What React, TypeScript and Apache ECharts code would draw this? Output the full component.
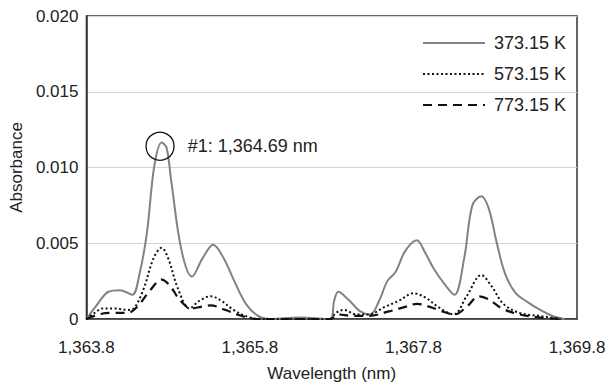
import React, { useEffect, useRef } from "react";
import * as echarts from "echarts";

// Wavelength (nm) and absorbance for each temperature
const wl373 = [1363.8, 1363.91, 1364.07, 1364.21, 1364.36, 1364.45, 1364.54, 1364.63, 1364.72, 1364.78, 1364.84, 1364.96, 1365.09, 1365.22, 1365.35, 1365.48, 1365.6, 1365.75, 1365.9, 1366.05, 1366.4, 1366.78, 1366.83, 1366.88, 1367.0, 1367.15, 1367.27, 1367.38, 1367.48, 1367.58, 1367.7, 1367.84, 1367.95, 1368.05, 1368.18, 1368.3, 1368.42, 1368.52, 1368.63, 1368.72, 1368.82, 1368.92, 1369.05, 1369.2, 1369.35, 1369.5, 1369.65];
const abs373 = [0, 0.0008, 0.0018, 0.0019, 0.0016, 0.003, 0.0057, 0.0101, 0.01165, 0.0113, 0.009, 0.0046, 0.0028, 0.004, 0.0049, 0.004, 0.0026, 0.001, 0.0002, 0, 0.0001, 0, 0.0012, 0.0018, 0.0013, 0.0005, 0.0003, 0.0012, 0.0025, 0.0031, 0.0045, 0.0052, 0.0043, 0.0033, 0.0023, 0.0016, 0.004, 0.0075, 0.0081, 0.0073, 0.005, 0.003, 0.0017, 0.0011, 0.0006, 0.0002, 0];

const wl573 = [1363.8, 1363.9, 1364.0, 1364.15, 1364.3, 1364.38, 1364.5, 1364.62, 1364.72, 1364.8, 1364.92, 1365.06, 1365.18, 1365.32, 1365.45, 1365.6, 1365.8, 1366.0, 1366.78, 1366.85, 1366.95, 1367.1, 1367.25, 1367.45, 1367.62, 1367.8, 1367.95, 1368.1, 1368.29, 1368.45, 1368.63, 1368.75, 1368.9, 1369.1, 1369.35, 1369.6];
const abs573 = [0, 0.0004, 0.0007, 0.0007, 0.0006, 0.0007, 0.002, 0.004, 0.0047, 0.004, 0.002, 0.0007, 0.0012, 0.0015, 0.0012, 0.0006, 0.0001, 0, 0, 0.0004, 0.0006, 0.0003, 0.0003, 0.0008, 0.0012, 0.0017, 0.0014, 0.0008, 0.0003, 0.0015, 0.0029, 0.0022, 0.001, 0.0004, 0.0002, 0];

const wl773 = [1363.8, 1363.95, 1364.1, 1364.3, 1364.42, 1364.58, 1364.72, 1364.82, 1364.95, 1365.08, 1365.2, 1365.32, 1365.5, 1365.7, 1365.9, 1366.78, 1366.88, 1367.05, 1367.25, 1367.5, 1367.7, 1367.84, 1368.0, 1368.15, 1368.3, 1368.45, 1368.6, 1368.72, 1368.88, 1369.1, 1369.35, 1369.6];
const abs773 = [0, 0.0003, 0.0004, 0.0004, 0.0008, 0.0019, 0.0026, 0.0022, 0.0012, 0.0007, 0.0008, 0.0009, 0.0006, 0.0002, 0, 0, 0.0003, 0.0002, 0.0002, 0.0005, 0.0008, 0.001, 0.0008, 0.0005, 0.0003, 0.0008, 0.0015, 0.0013, 0.0007, 0.0003, 0.0001, 0];

const seriesNames = ["373.15 K", "573.15 K", "773.15 K"];
const xStart = 1363.8;
const xEnd = 1369.8;
const xStep = 2;
const yTicks = [0, 0.005, 0.01, 0.015, 0.02];
const peakWl = 1364.7;
const peakAbs = 0.0114;
const peakLabel = "#1: 1,364.69 nm";

const FONT = "Liberation Sans";

const fmtX = (v: number) =>
  (v + xStart).toLocaleString("en-US", { minimumFractionDigits: 1, maximumFractionDigits: 1 });

const pairs = (wl: number[], ab: number[]) => wl.map((w, i) => [w - xStart, ab[i]]);

export default function App() {
  const ref = useRef<HTMLDivElement>(null);
  useEffect(() => {
    document.body.style.margin = "0";
    const chart = echarts.init(ref.current!, null, { renderer: "svg" });
    chart.setOption({
      animation: false,
      backgroundColor: "#fff",
      grid: {
        left: 81,
        top: 16,
        right: 38,
        bottom: 66,
        show: true,
        borderColor: "#333",
        borderWidth: 1.5,
        backgroundColor: "transparent",
      },
      legend: {
        orient: "vertical",
        left: 417,
        top: 29,
        itemWidth: 62,
        itemHeight: 14,
        itemGap: 13,
        itemStyle: { opacity: 0, borderWidth: 0 },
        textStyle: { fontFamily: FONT, fontSize: 18, color: "#222", padding: [0, 0, 0, 4] },
        data: seriesNames,
      },
      xAxis: {
        type: "value",
        min: 0,
        max: xEnd - xStart,
        interval: xStep,
        name: "Wavelength (nm)",
        nameLocation: "middle",
        nameGap: 46,
        nameTextStyle: { fontFamily: FONT, fontSize: 17, color: "#222" },
        axisLine: { show: true, lineStyle: { color: "#333", width: 1.5 } },
        axisTick: { show: false },
        splitLine: { show: false },
        axisLabel: {
          margin: 20,
          fontFamily: FONT,
          fontSize: 17,
          color: "#222",
          formatter: fmtX,
        },
      },
      yAxis: {
        type: "value",
        min: yTicks[0],
        max: yTicks[yTicks.length - 1],
        interval: yTicks[1] - yTicks[0],
        name: "Absorbance",
        nameLocation: "middle",
        nameGap: 57,
        nameTextStyle: { fontFamily: FONT, fontSize: 17, color: "#222" },
        axisLine: { show: true, lineStyle: { color: "#333", width: 1.5 } },
        axisTick: { show: false },
        splitLine: { show: true, lineStyle: { color: "#d4d4d4", width: 1 } },
        axisLabel: {
          margin: 8,
          fontFamily: FONT,
          fontSize: 17,
          color: "#222",
          formatter: (v: number) => (v === 0 ? "0" : v.toFixed(3)),
        },
      },
      series: [
        {
          name: seriesNames[0],
          type: "line",
          data: pairs(wl373, abs373),
          smooth: 0.35,
          symbol: "none",
          lineStyle: { color: "#828282", width: 2, type: "solid" },
          itemStyle: { color: "#828282" },
          z: 3,
          markPoint: {
            symbol: "circle",
            symbolSize: 28,
            itemStyle: { color: "rgba(0,0,0,0)", borderColor: "#111", borderWidth: 1.3 },
            label: {
              show: true,
              position: "right",
              distance: 13,
              formatter: peakLabel,
              fontFamily: FONT,
              fontSize: 18,
              color: "#222",
            },
            data: [{ coord: [peakWl - xStart, peakAbs] }],
          },
        },
        {
          name: seriesNames[1],
          type: "line",
          data: pairs(wl573, abs573),
          smooth: 0.35,
          symbol: "none",
          lineStyle: { color: "#111", width: 2, type: [2, 2.5] },
          itemStyle: { color: "#111" },
          z: 4,
        },
        {
          name: seriesNames[2],
          type: "line",
          data: pairs(wl773, abs773),
          smooth: 0.35,
          symbol: "none",
          lineStyle: { color: "#111", width: 2.2, type: [9, 6] },
          itemStyle: { color: "#111" },
          z: 5,
        },
      ],
    });
    return () => chart.dispose();
  }, []);
  return <div ref={ref} style={{ width: 615, height: 387 }} />;
}
